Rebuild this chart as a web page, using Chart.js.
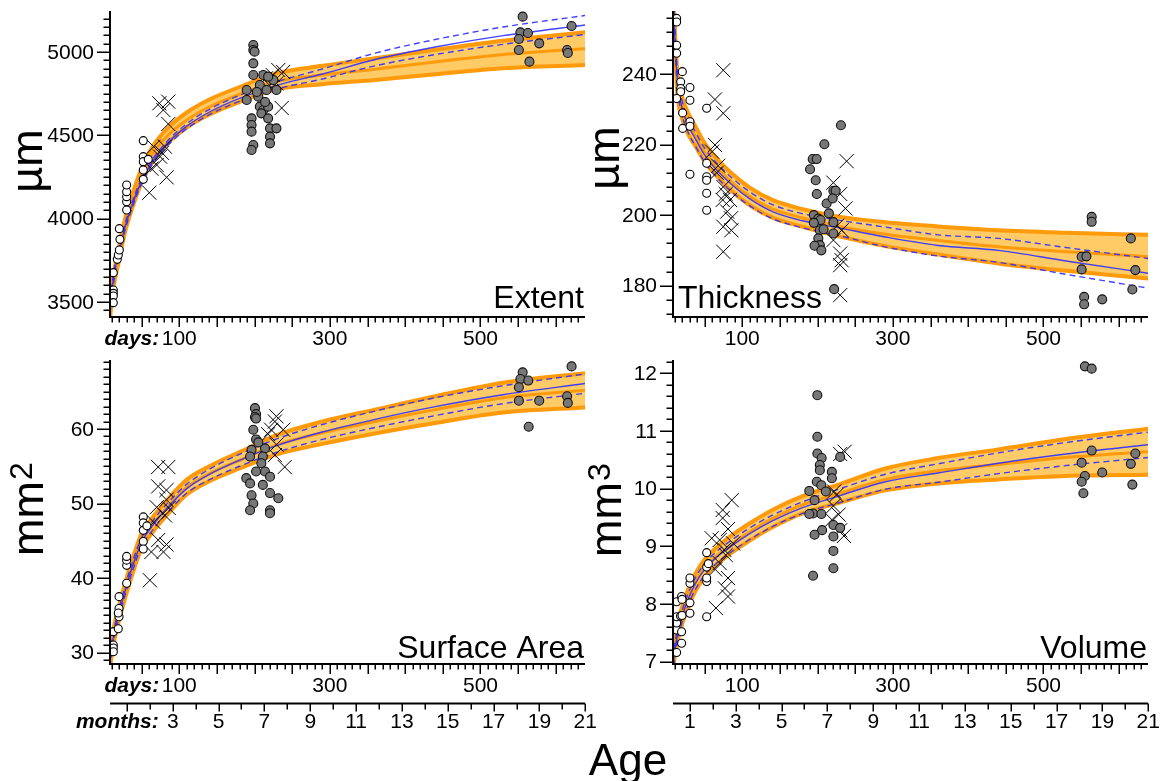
<!DOCTYPE html>
<html><head><meta charset="utf-8">
<script src="https://cdn.jsdelivr.net/npm/chart.js@4/dist/chart.umd.min.js"></script>
<style>
html,body{margin:0;padding:0;background:#fff;width:1163px;height:781px;overflow:hidden}
canvas{position:absolute;left:0;top:0}
</style></head>
<body>
<canvas id="c0" width="1163" height="781"></canvas>
<canvas id="c1" width="1163" height="781"></canvas>
<canvas id="c2" width="1163" height="781"></canvas>
<canvas id="c3" width="1163" height="781"></canvas>
<script>
// ---------- shared x values for fitted curves (days) ----------
const curveDays = [8,10,14,20,28,38,50,65,85,110,140,180,230,290,360,440,530,639];
const dayTickLabels = [100,300,500];
const monthTickLabels = [1,3,5,7,9,11,13,15,17,19,21];

// ---------- Extent ----------
const extentYTicks = [3500,4000,4500,5000];
const extentBandMid = [3440,3530,3660,3790,3960,4110,4260,4390,4500,4592,4670,4745,4825,4862,4897,4940,4985,5020];
const extentBandHi  = [3480,3570,3700,3830,4000,4150,4302,4435,4545,4637,4715,4790,4873,4917,4962,5013,5067,5118];
const extentBandLo  = [3400,3490,3620,3750,3920,4070,4218,4345,4455,4547,4625,4700,4777,4807,4832,4867,4903,4922];
const extentFit     = [3470,3550,3680,3800,3950,4090,4225,4345,4455,4555,4640,4722,4800,4868,4955,5030,5098,5162];
const extentFitHi   = [3510,3585,3710,3825,3970,4108,4241,4360,4470,4570,4656,4740,4822,4898,4993,5075,5150,5219];
const extentFitLo   = [3430,3515,3650,3775,3930,4072,4209,4330,4440,4540,4624,4704,4778,4838,4917,4985,5046,5105];
const extentOpenDays = [12.4,12.4,12.4,12.4,12.4,17.7,19,20.4,21.2,20.4,30.1,30.1,30.1,30.1,30.1,52.2,52.2,52.2,52.2,52.2,58.8];
const extentOpenVals = [3676,3572,3552,3536,3496,3756,3782,3812,3876,3940,4052,4102,4132,4162,4202,4468,4372,4342,4292,4236,4356];
const extentCrossDays = [73.5,85.4,78.8,85.4,83.2,60.2,70,81,66,74.5,63,77,231.5,224,236,215,229,238,220];
const extentCrossVals = [4692,4702,4652,4568,4248,4156,4322,4432,4432,4372,4300,4395,4892,4862,4664,4842,4812,4880,4800];
const extentGreyDays = [198.3,198.3,200,198.3,198.3,189.5,189.5,196,196,196,198.3,196,207,211.6,207,211.6,209,218,218,220.5,220.5,220.5,229,229,216,225,218,205,203,214,556,553,563,551,578,551,565,621,615,616];
const extentGreyVals = [5042,5012,5002,4932,4862,4772,4712,4602,4562,4522,4442,4412,4802,4862,4672,4652,4632,4672,4602,4542,4492,4452,4542,4772,4772,4832,4852,4732,4760,4700,5212,5118,5114,5078,5052,5012,4942,5156,5012,4994];

// ---------- Thickness ----------
const thickYTicks = [180,200,220,240];
const thickBandMid = [262,252,237,230.5,226,222.3,217.8,213.8,209.5,205.3,201.8,199.2,196.7,194.6,192.8,191,189.6,188.2];
const thickBandHi  = [265,255,240,233.5,229,225.1,220.4,216.3,212,207.8,204.3,201.7,199.5,198,196.8,195.7,195,194.4];
const thickBandLo  = [259,249,234,227.5,223,219.5,215.2,211.3,207,202.8,199.3,196.7,193.9,191.2,188.8,186.3,184.2,182];
const thickFit     = [264,253,238,230.5,225.5,221.5,217,213,208.8,204.6,201,198.4,196.3,193.8,191.4,190,187,183.5];
const thickFitHi   = [267,255.5,240,232.5,227.5,223.5,219,215,210.8,206.6,203,200.4,198.5,196.6,194.4,193.4,190.8,187.7];
const thickFitLo   = [261,250.5,236,228.5,223.5,219.5,215,211,206.8,202.6,199,196.4,194.1,191,188.4,186.6,183.2,179.3];
const thickOpenDays = [12.8,12.8,12.8,12.8,20.4,18.2,18.2,18.2,12.8,30.5,30.5,20.8,20.8,30.5,30.5,30.5,52.7,52.7,52.7,52.7,52.7,52.7];
const thickOpenVals = [255.8,254.8,248.2,245.9,240.7,237.8,235.9,235,233.1,236.2,232.6,229,224.6,226.5,225.2,211.6,230.3,214.7,210.9,209.9,206.2,201.4];
const thickCrossDays = [74.8,63.7,74.8,63.7,60,66,74.8,74,83.7,74.8,85,85.5,74.8,80,68,78,238.6,221,230,237,232,221,230,232,230,230,226];
const thickCrossVals = [241.1,232.8,228.9,219.9,218,212,208,204.3,204.3,196.7,199.1,195.7,189.6,201,214,206,215.3,209.2,206,201.9,195.7,192.9,189.1,187.2,185.8,177.3,197];
const thickGreyDays = [231,209,193.5,198.8,190,197.5,199,212,221,224,220,195,201,204,195,203,201,203,196,205,221,221,222,215,208,564,564,550.7,557,550.7,554,554,578,616,622,618];
const thickGreyVals = [225.5,220.1,215.9,215.9,213,209.9,206,203.3,206.9,206.9,204.7,200,199,198.6,197.8,195.7,193.4,191.5,191.3,190,198,194.8,179,200.5,196,199.5,198.1,188.2,188.3,184.6,176.8,174.7,176.1,193.4,184.4,178.9];

// ---------- Surface Area ----------
const surfYTicks = [30,40,50,60];
const surfBandMid = [28.8,30.5,32.8,35.3,38.3,41.6,45,47.2,49.6,52.2,54,55.8,57.9,59.5,61,62.6,64.2,65.2];
const surfBandHi  = [29.8,31.5,33.8,36.3,39.3,42.6,46,48.2,50.6,53.2,55,56.9,59.2,61,62.6,64.4,66.2,67.5];
const surfBandLo  = [27.8,29.5,31.8,34.3,37.3,40.6,44,46.2,48.6,51.2,53,54.7,56.6,58,59.4,60.8,62.2,62.9];
const surfFit     = [28.8,30.5,32.8,35.3,38.3,41.6,44.8,47.1,49.5,52,53.9,55.8,57.8,59.6,61.3,63,64.6,66.1];
const surfFitHi   = [29.6,31.2,33.4,35.9,38.9,42.2,45.4,47.7,50.1,52.6,54.6,56.6,58.7,60.6,62.4,64.2,65.8,67.4];
const surfFitLo   = [28,29.8,32.2,34.7,37.7,41,44.2,46.5,48.9,51.4,53.2,55,56.9,58.6,60.2,61.8,63.4,64.8];
const surfOpenDays = [12.4,12.4,12.4,12.4,19,20,20,19,20,30.1,30.1,30.1,30.1,52.2,52.2,52.2,52.2,52.2,57];
const surfOpenVals = [31.0,30.6,30.1,32.8,33.2,34.8,35.9,35.3,37.5,39.3,41.7,42.4,42.9,48.2,47.4,46.4,44.9,43.9,47];
const surfCrossDays = [72,85.4,72,83,83,86,61,63,79,83,72,66,81,70,229,227,222,218,238,229,240,227];
const surfCrossVals = [54.9,54.9,52.3,51.8,50.5,49.4,39.7,43.5,43.5,44.5,45.1,47.5,48.4,49.5,61.7,61,59.9,59.3,59.9,57.9,54.9,56.5];
const surfGreyDays = [200.5,202,200.5,202,198.3,202,196,194,189,194,196,198.3,194,213.8,211,209,213.8,211,220.5,220.5,220.5,220.5,231.5,205,202,556,553,563.5,551,551,564,578,621,615,616];
const surfGreyVals = [62.8,62,61.6,61.4,59.9,58.6,57.2,56.3,53.4,52.7,51.1,50,49.1,57.4,56.3,55.4,54.3,52.5,53.6,51.4,49.1,48.7,50.7,58.2,54.3,67.6,66.7,66.5,65.6,63.8,60.3,63.8,68.4,64.4,63.5];

// ---------- Volume ----------
const volYTicks = [7,8,9,10,11,12];
const volBandMid = [6.95,7.2,7.5,7.8,8.1,8.38,8.62,8.82,9.03,9.25,9.48,9.72,9.92,10.16,10.31,10.42,10.54,10.64];
const volBandHi  = [7.1,7.35,7.65,7.95,8.25,8.53,8.77,8.97,9.18,9.4,9.63,9.87,10.08,10.35,10.53,10.68,10.86,11.04];
const volBandLo  = [6.8,7.05,7.35,7.65,7.95,8.23,8.47,8.67,8.88,9.1,9.33,9.57,9.76,9.97,10.09,10.16,10.22,10.24];
const volFit     = [6.9,7.15,7.47,7.78,8.08,8.36,8.6,8.8,9.0,9.22,9.44,9.67,9.88,10.12,10.27,10.44,10.6,10.76];
const volFitHi   = [7.05,7.27,7.57,7.88,8.18,8.46,8.7,8.9,9.1,9.32,9.54,9.77,10,10.25,10.43,10.62,10.8,10.98];
const volFitLo   = [6.75,7.03,7.37,7.68,7.98,8.26,8.5,8.7,8.9,9.12,9.34,9.57,9.76,9.99,10.11,10.26,10.4,10.54];
const volOpenDays = [12.8,12.8,12.8,12.8,12.8,19.4,19.4,18,19.4,20,20,30.5,30.5,30.5,30.5,52.7,52.7,52.7,52.7,52.7,55];
const volOpenVals = [7.16,7.55,7.67,7.78,8.04,7.32,7.52,7.79,8.13,8.08,7.8,7.84,8.02,8.36,8.45,7.78,8.39,8.45,8.64,8.89,8.7];
const volCrossDays = [86,74,74,81,59.4,70,65,77,81,81,76,70,88,64,78,236,230,225,221,219,230,235,228,222];
const volCrossVals = [9.8,9.63,9.49,9.3,9.14,9.11,7.93,8.27,8.45,8.13,8.94,8.71,9.05,8.6,8.85,10.64,10.6,9.89,9.7,9.46,9.28,9.18,9.55,9.95];
const volGreyDays = [199.7,199.7,199.7,205.4,203,203,219,219,199,205,189,196,211,194,189,205,206,196,221,230,221,221,221,194,230,555,564,564,550.7,555,550.7,553,578,622,616,618];
const volGreyVals = [11.62,10.9,10.61,10.53,10.41,10.32,10.29,10.18,10.12,10.06,9.96,9.8,9.95,9.57,9.56,9.56,9.28,9.2,9.37,9.32,9.17,8.92,8.62,8.49,10.55,12.12,12.08,10.66,10.45,10.22,10.12,9.92,10.28,10.61,10.43,10.07];

// ---------- styling ----------
const ORANGE_D = '#FF9A0A';
const ORANGE_L = '#FFCB66';
const BLUE = 'rgba(45,45,255,0.9)';
const FONT = '"Liberation Sans", Arial, Helvetica, sans-serif';
const DAYS_PER_MONTH = 30.4375;

function curve(vals){ return curveDays.map((d,i)=>({x:d,y:vals[i]})); }
function pts(days, vals){ return days.map((d,i)=>({x:d,y:vals[i]})); }

const panels = [
 {key:'extent', canvas:'c0', area:{left:110,right:585,top:11,bottom:317}, yMin:3410, yMax:5246, yMinor:50, yMajor:500, yTicks:extentYTicks,
  title:'Extent', titleAlign:'right', titleX:584, titleY:308, unit:'µm', unitX:42, unitY:161, leftSide:true, months:false,
  band:[extentBandHi,extentBandMid,extentBandLo], fit:[extentFit,extentFitHi,extentFitLo],
  open:[extentOpenDays,extentOpenVals], cross:[extentCrossDays,extentCrossVals], grey:[extentGreyDays,extentGreyVals]},
 {key:'thick', canvas:'c1', area:{left:673,right:1148,top:11,bottom:317}, yMin:171.1, yMax:257.9, yMinor:4, yMajor:20, yTicks:thickYTicks,
  title:'Thickness', titleAlign:'left', titleX:678, titleY:308, unit:'µm', unitX:619, unitY:158, leftSide:false, months:false,
  band:[thickBandHi,thickBandMid,thickBandLo], fit:[thickFit,thickFitHi,thickFitLo],
  open:[thickOpenDays,thickOpenVals], cross:[thickCrossDays,thickCrossVals], grey:[thickGreyDays,thickGreyVals]},
 {key:'surf', canvas:'c2', area:{left:110,right:585,top:360,bottom:664}, yMin:28.46, yMax:69.26, yMinor:1, yMajor:10, yTicks:surfYTicks,
  title:'Surface Area', titleAlign:'right', titleX:584, titleY:658, unit:'mm', sup:'2', unitX:43, unitY:509, leftSide:true, months:true, age:true,
  band:[surfBandHi,surfBandMid,surfBandLo], fit:[surfFit,surfFitHi,surfFitLo],
  open:[surfOpenDays,surfOpenVals], cross:[surfCrossDays,surfCrossVals], grey:[surfGreyDays,surfGreyVals]},
 {key:'vol', canvas:'c3', area:{left:673,right:1148,top:360,bottom:664}, yMin:6.96, yMax:12.23, yMinor:0.2, yMajor:1, yTicks:volYTicks,
  title:'Volume', titleAlign:'right', titleX:1147, titleY:658, unit:'mm', sup:'3', unitX:621, unitY:510, leftSide:false, months:true,
  band:[volBandHi,volBandMid,volBandLo], fit:[volFit,volFitHi,volFitLo],
  open:[volOpenDays,volOpenVals], cross:[volCrossDays,volCrossVals], grey:[volGreyDays,volGreyVals]}
];

function axesPlugin(P){
  return {
    id:'axes_'+P.key,
    afterDraw(chart){
      const ctx = chart.ctx, xs = chart.scales.x, ys = chart.scales.y, A = chart.chartArea;
      ctx.save();
      ctx.strokeStyle = '#000'; ctx.fillStyle = '#000';
      ctx.lineCap = 'butt';
      // axis lines
      ctx.lineWidth = 2;
      ctx.beginPath();
      ctx.moveTo(A.left, A.top); ctx.lineTo(A.left, A.bottom); ctx.lineTo(A.right, A.bottom);
      ctx.stroke();
      // y ticks
      ctx.lineWidth = 1.5;
      const n0 = Math.ceil(P.yMin / P.yMinor - 1e-9), n1 = Math.floor(P.yMax / P.yMinor + 1e-9);
      ctx.beginPath();
      for (let k = n0; k <= n1; k++) {
        const v = k * P.yMinor;
        const r = v / P.yMajor;
        const major = Math.abs(r - Math.round(r)) < 1e-6;
        const y = Math.round(ys.getPixelForValue(v)) + 0.25;
        const len = major ? 13 : 6.5;
        ctx.moveTo(A.left - len, y); ctx.lineTo(A.left, y);
      }
      ctx.stroke();
      ctx.font = '21px ' + FONT;
      ctx.textAlign = 'right'; ctx.textBaseline = 'middle';
      P.yTicks.forEach(v => ctx.fillText(String(v), A.left - 16, ys.getPixelForValue(v) + 1));
      // x (days) ticks
      ctx.beginPath();
      for (let d = 10; d <= xs.max; d += 10) {
        const x = Math.round(xs.getPixelForValue(d)) + 0.25;
        const len = (d % 50 === 0) ? 10 : 5.5;
        ctx.moveTo(x, A.bottom); ctx.lineTo(x, A.bottom + len);
      }
      ctx.stroke();
      ctx.textAlign = 'center';
      const dayY = A.bottom + 22;
      dayTickLabels.forEach(v => ctx.fillText(String(v), xs.getPixelForValue(v), dayY));
      if (P.leftSide) {
        ctx.font = 'italic bold 21px ' + FONT;
        ctx.textAlign = 'right';
        ctx.fillText('days:', xs.getPixelForValue(dayTickLabels[0]) - 20, dayY);
      }
      // months axis
      if (P.months) {
        const my = 703.5;
        ctx.lineWidth = 2;
        ctx.beginPath(); ctx.moveTo(A.left, my); ctx.lineTo(A.right, my); ctx.stroke();
        ctx.lineWidth = 1.5;
        ctx.beginPath();
        for (let m = 1; m <= 21; m++) {
          const x = Math.round(xs.getPixelForValue(m * DAYS_PER_MONTH)) + 0.25;
          ctx.moveTo(x, my); ctx.lineTo(x, my + (m % 2 ? 8 : 6));
        }
        ctx.stroke();
        ctx.font = '21px ' + FONT;
        ctx.textAlign = 'center';
        monthTickLabels.forEach(m => {
          if (P.leftSide && m === 1) return;
          ctx.fillText(String(m), xs.getPixelForValue(m * DAYS_PER_MONTH), 722);
        });
        if (P.leftSide) {
          ctx.font = 'italic bold 21px ' + FONT;
          ctx.textAlign = 'right';
          ctx.fillText('months:', xs.getPixelForValue(3 * DAYS_PER_MONTH) - 14, 722);
        }
      }
      // panel title
      ctx.font = '32px ' + FONT;
      ctx.textAlign = P.titleAlign; ctx.textBaseline = 'alphabetic';
      ctx.fillText(P.title, P.titleX, P.titleY);
      // unit label (rotated)
      ctx.save();
      ctx.translate(P.unitX, P.unitY);
      ctx.rotate(-Math.PI / 2);
      ctx.font = '45px ' + FONT;
      if (P.sup) {
        const w1 = ctx.measureText(P.unit).width;
        ctx.font = '32px ' + FONT;
        const w2 = ctx.measureText(P.sup).width;
        const start = -(w1 + w2 + 1) / 2;
        ctx.textAlign = 'left';
        ctx.font = '45px ' + FONT;
        ctx.fillText(P.unit, start, 0);
        ctx.font = '32px ' + FONT;
        ctx.fillText(P.sup, start + w1 + 1, -11);
      } else {
        ctx.textAlign = 'center';
        ctx.fillText(P.unit, 0, 0);
      }
      ctx.restore();
      if (P.age) {
        ctx.font = '44px ' + FONT;
        ctx.textAlign = 'center'; ctx.textBaseline = 'alphabetic';
        ctx.fillText('Age', 628, 775);
      }
      ctx.restore();
    }
  };
}

function lineDs(vals, opts){
  return Object.assign({data: curve(vals), pointRadius:0, borderWidth:1.4, fill:false,
    cubicInterpolationMode:'monotone', showLine:true}, opts);
}

panels.forEach(P => {
  const datasets = [
    {label:'open', data: pts(P.open[0], P.open[1]), showLine:false, pointStyle:'circle', pointRadius:4,
     pointBackgroundColor:'#fff', pointBorderColor:'#000', pointBorderWidth:1.1, order:0},
    {label:'grey', data: pts(P.grey[0], P.grey[1]), showLine:false, pointStyle:'circle', pointRadius:4.5,
     pointBackgroundColor:'#777', pointBorderColor:'#111', pointBorderWidth:1.1, order:0},
    {label:'cross', data: pts(P.cross[0], P.cross[1]), showLine:false, pointStyle:'crossRot', pointRadius:10,
     pointBorderColor:'#000', pointBackgroundColor:'#000', pointBorderWidth:1, order:0},
    lineDs(P.fit[0], {label:'fit', borderColor:BLUE, borderWidth:1.4, order:1}),
    lineDs(P.fit[1], {label:'fit upper', borderColor:BLUE, borderWidth:1.4, borderDash:[6,4], order:1}),
    lineDs(P.fit[2], {label:'fit lower', borderColor:BLUE, borderWidth:1.4, borderDash:[6,4], order:1}),
    lineDs(P.band[1], {label:'band mid', borderColor:ORANGE_D, borderWidth:3, order:2}),
    lineDs(P.band[0], {label:'band upper', borderColor:ORANGE_D, borderWidth:4, fill:{target:8}, backgroundColor:ORANGE_L, order:4}),
    lineDs(P.band[2], {label:'band lower', borderColor:ORANGE_D, borderWidth:4, order:3})
  ];
  new Chart(document.getElementById(P.canvas), {
    type:'line',
    data:{datasets},
    options:{
      responsive:false, animation:false, devicePixelRatio:1, events:[],
      layout:{padding:{left:P.area.left, right:1163 - P.area.right, top:P.area.top, bottom:781 - P.area.bottom}},
      scales:{
        x:{type:'linear', min:8, max:638.8, display:false},
        y:{type:'linear', min:P.yMin, max:P.yMax, display:false}
      },
      plugins:{legend:{display:false}, tooltip:{enabled:false}}
    },
    plugins:[axesPlugin(P)]
  });
});
</script>
</body></html>
